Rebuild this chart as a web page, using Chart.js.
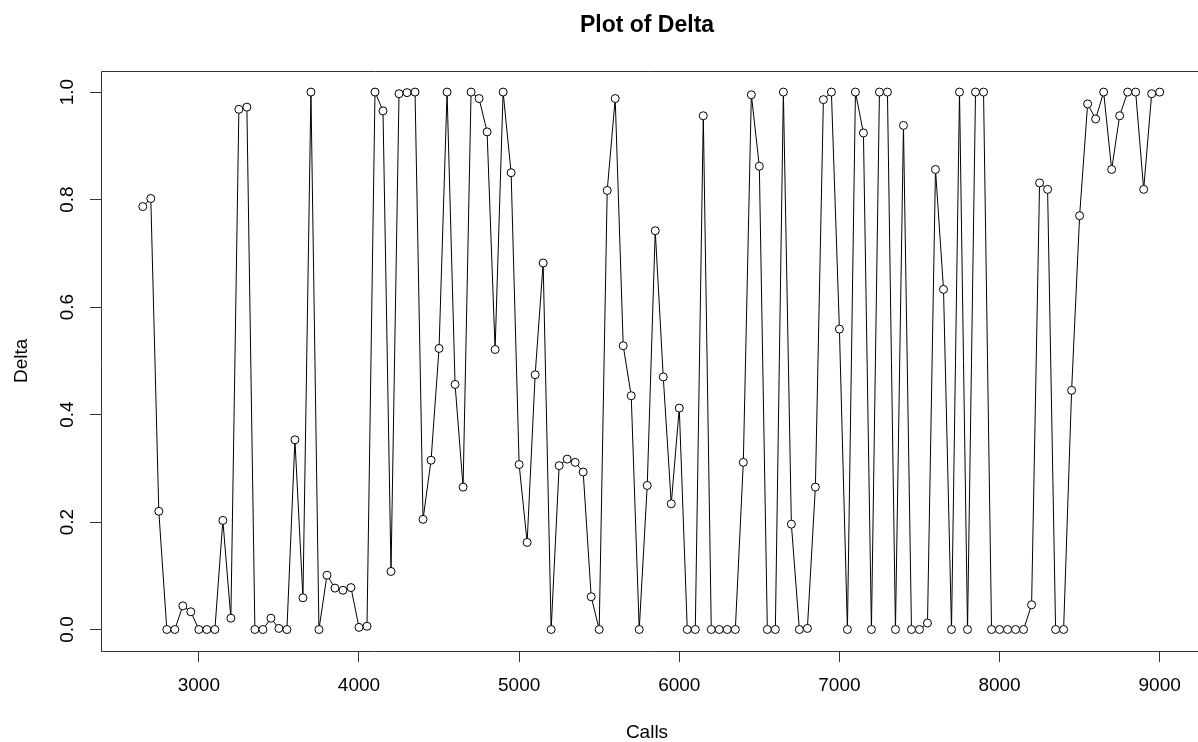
<!DOCTYPE html>
<html>
<head>
<meta charset="utf-8">
<script src="https://cdn.jsdelivr.net/npm/chart.js@4/dist/chart.umd.min.js"></script>
<style>
  html, body { margin: 0; padding: 0; overflow: hidden; background: #fff; }
  canvas { display: block; }
</style>
</head>
<body>
<canvas id="c" width="1198" height="742" style="width:1198px;height:742px"></canvas>
<script>
const calls = [
  2650, 2700, 2750, 2800, 2850, 2900, 2950, 3000, 3050, 3100, 3150, 3200, 3250, 3300, 3350, 3400,
  3450, 3500, 3550, 3600, 3650, 3700, 3750, 3800, 3850, 3900, 3950, 4000, 4050, 4100, 4150, 4200,
  4250, 4300, 4350, 4400, 4450, 4500, 4550, 4600, 4650, 4700, 4750, 4800, 4850, 4900, 4950, 5000,
  5050, 5100, 5150, 5200, 5250, 5300, 5350, 5400, 5450, 5500, 5550, 5600, 5650, 5700, 5750, 5800,
  5850, 5900, 5950, 6000, 6050, 6100, 6150, 6200, 6250, 6300, 6350, 6400, 6450, 6500, 6550, 6600,
  6650, 6700, 6750, 6800, 6850, 6900, 6950, 7000, 7050, 7100, 7150, 7200, 7250, 7300, 7350, 7400,
  7450, 7500, 7550, 7600, 7650, 7700, 7750, 7800, 7850, 7900, 7950, 8000, 8050, 8100, 8150, 8200,
  8250, 8300, 8350, 8400, 8450, 8500, 8550, 8600, 8650, 8700, 8750, 8800, 8850, 8900, 8950, 9000
];
const delta = [
  0.787, 0.802, 0.220, 0.000, 0.000, 0.044, 0.033, 0.000, 0.000, 0.000, 0.203, 0.021, 0.968, 0.972, 0.000, 0.000,
  0.021, 0.002, 0.000, 0.353, 0.059, 1.000, 0.000, 0.101, 0.077, 0.073, 0.078, 0.004, 0.006, 1.000, 0.965, 0.108,
  0.997, 0.999, 1.000, 0.205, 0.315, 0.523, 1.000, 0.456, 0.265, 1.000, 0.988, 0.926, 0.521, 1.000, 0.850, 0.307,
  0.162, 0.474, 0.682, 0.000, 0.305, 0.317, 0.311, 0.293, 0.061, 0.000, 0.817, 0.988, 0.528, 0.435, 0.000, 0.268,
  0.742, 0.470, 0.234, 0.412, 0.000, 0.000, 0.956, 0.000, 0.000, 0.000, 0.000, 0.311, 0.995, 0.862, 0.000, 0.000,
  1.000, 0.196, 0.000, 0.002, 0.265, 0.986, 1.000, 0.559, 0.000, 1.000, 0.924, 0.000, 1.000, 1.000, 0.000, 0.938,
  0.000, 0.000, 0.012, 0.856, 0.633, 0.000, 1.000, 0.000, 1.000, 1.000, 0.000, 0.000, 0.000, 0.000, 0.000, 0.046,
  0.831, 0.819, 0.000, 0.000, 0.445, 0.770, 0.978, 0.950, 1.000, 0.856, 0.956, 1.000, 1.000, 0.819, 0.997, 1.000
];
const xTicks = [3000, 4000, 5000, 6000, 7000, 8000, 9000];
const yTicks = [0.0, 0.2, 0.4, 0.6, 0.8, 1.0];

const FONT = "'Liberation Sans', Arial, Helvetica, sans-serif";
Chart.defaults.font.family = FONT;
Chart.defaults.color = '#000';

const points = calls.map((c, i) => ({ x: c, y: delta[i] }));

// R-style plot frame (its right edge lies just beyond the visible picture)
const boxPlugin = {
  id: 'rbox',
  beforeDatasetsDraw(chart) {
    const { ctx, chartArea: a } = chart;
    const l = Math.round(a.left) + 0.5, t = Math.round(a.top) + 0.5, b = Math.round(a.bottom) + 0.5;
    ctx.save();
    ctx.strokeStyle = '#333';
    ctx.lineWidth = 1;
    ctx.beginPath();
    ctx.moveTo(a.right + 5, t);
    ctx.lineTo(l, t);
    ctx.lineTo(l, b);
    ctx.lineTo(a.right + 5, b);
    ctx.stroke();
    ctx.restore();
  }
};

new Chart(document.getElementById('c'), {
  type: 'scatter',
  data: {
    datasets: [{
      data: points,
      showLine: true,
      borderColor: '#000',
      borderWidth: 1,
      tension: 0,
      pointRadius: 4,
      pointBorderWidth: 1,
      pointBorderColor: '#000',
      pointBackgroundColor: '#fff',
      pointHoverRadius: 4
    }]
  },
  options: {
    responsive: false,
    devicePixelRatio: 1,
    animation: false,
    layout: { padding: 0 },
    plugins: {
      legend: { display: false },
      tooltip: { enabled: false },
      title: {
        display: true,
        text: 'Plot of Delta',
        fullSize: false,
        color: '#000',
        font: { family: FONT, size: 23, weight: 'bold', lineHeight: 1.2 },
        padding: { top: 12, bottom: 31 }
      }
    },
    scales: {
      x: {
        type: 'linear',
        position: 'bottom',
        min: 2389,
        max: 9208,
        afterFit(s) { s.height = 91; s.paddingLeft = 0; s.paddingRight = 0; },
        afterBuildTicks(s) { s.ticks = xTicks.map(v => ({ value: v })); },
        grid: { drawOnChartArea: false, drawTicks: true, tickLength: 11, color: '#333', lineWidth: 1 },
        border: { display: false },
        ticks: {
          autoSkip: false, maxRotation: 0, minRotation: 0, padding: 14,
          color: '#000',
          font: { family: FONT, size: 19, lineHeight: 1 },
          callback: v => String(v)
        },
        title: {
          display: true, text: 'Calls', color: '#000',
          font: { family: FONT, size: 19, lineHeight: 1 },
          padding: { top: 0, bottom: 0 }
        }
      },
      y: {
        type: 'linear',
        position: 'left',
        min: -0.04,
        max: 1.04,
        afterFit(s) { s.width = 101; s.paddingTop = 0; s.paddingBottom = 0; },
        afterBuildTicks(s) { s.ticks = yTicks.map(v => ({ value: v })); },
        grid: { drawOnChartArea: false, drawTicks: true, tickLength: 11, color: '#333', lineWidth: 1 },
        border: { display: false },
        ticks: {
          autoSkip: false, minRotation: 90, maxRotation: 90, crossAlign: 'center', padding: 9,
          color: '#000',
          font: { family: FONT, size: 19, lineHeight: 1 },
          callback: v => Number(v).toFixed(1)
        },
        title: {
          display: true, text: 'Delta', color: '#000',
          font: { family: FONT, size: 19, lineHeight: 1 },
          padding: { top: 12, bottom: 0 }
        }
      }
    }
  },
  plugins: [boxPlugin]
});
</script>
</body>
</html>
